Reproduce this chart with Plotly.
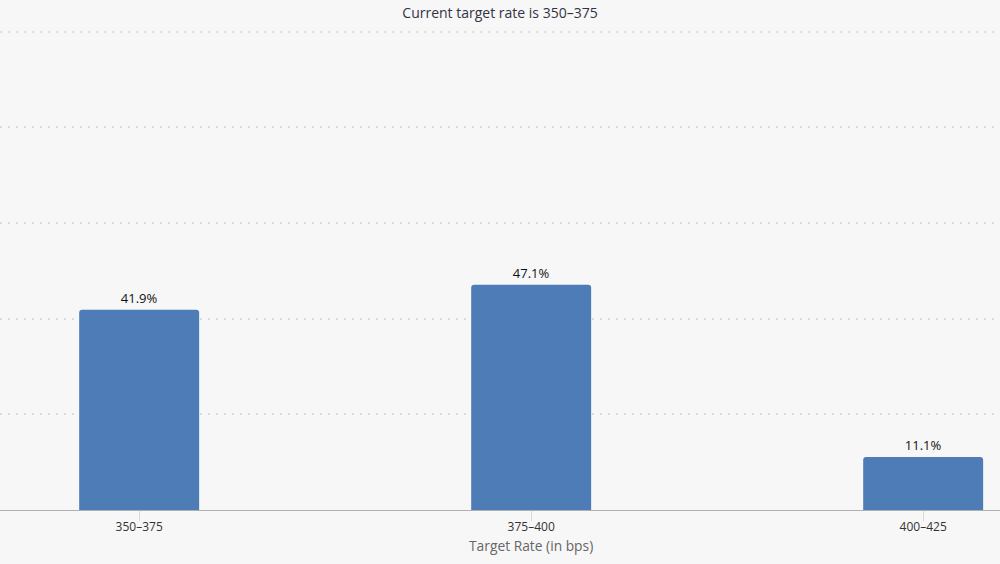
import plotly.graph_objects as go

categories = ["350–375", "375–400", "400–425"]
probabilities = [41.9, 47.1, 11.1]
labels = ["41.9%", "47.1%", "11.1%"]

title_text = "Current target rate is 350–375"
x_title = "Target Rate (in bps)"

fig = go.Figure()
fig.add_trace(go.Bar(
    x=list(range(len(categories))),
    y=probabilities,
    text=labels,
    textposition="outside",
    textfont=dict(color="#111111", size=13, family="Open Sans"),
    marker=dict(color="#4e7cb6", line=dict(width=0)),
    width=0.306,
    cliponaxis=False,
    hoverinfo="skip",
))

plot_h = 564 - 27 - 54

fig.update_layout(
    width=1000, height=564,
    paper_bgcolor="#f7f7f7",
    plot_bgcolor="#f7f7f7",
    margin=dict(l=0, r=0, t=27, b=54),
    barcornerradius=3,
    showlegend=False,
    font=dict(family="Open Sans", size=11, color="#333333"),
    title=dict(text=title_text, x=0.5, xanchor="center", y=1 - 13.5 / 564, yanchor="middle",
               font=dict(size=14, color="#333344", family="Open Sans")),
    annotations=[dict(
        text=x_title, xref="x", x=1, yref="paper", y=-35.5 / plot_h,
        xanchor="center", yanchor="middle", showarrow=False,
        font=dict(size=13.8, color="#666666", family="Open Sans"),
    )],
)

fig.update_xaxes(
    tickmode="array",
    tickvals=list(range(len(categories))),
    ticktext=categories,
    range=[-0.355, 2.196],
    showgrid=False,
    showline=True, linecolor="#b0b0b0", linewidth=1,
    ticks="outside", ticklen=10, tickcolor="#d8d8d8", tickwidth=1,
    ticklabelstandoff=-4,
    tickfont=dict(size=12, color="#333333"),
    zeroline=False,
)

fig.update_yaxes(
    range=[0, 101],
    dtick=20,
    showticklabels=False,
    showgrid=True, gridcolor="#dcdcdc", gridwidth=2, griddash="2px,6px",
    zeroline=False,
    showline=False,
)

fig.write_html("out.html", config={"displayModeBar": False},
               post_script="document.body.style.margin='0px';")
